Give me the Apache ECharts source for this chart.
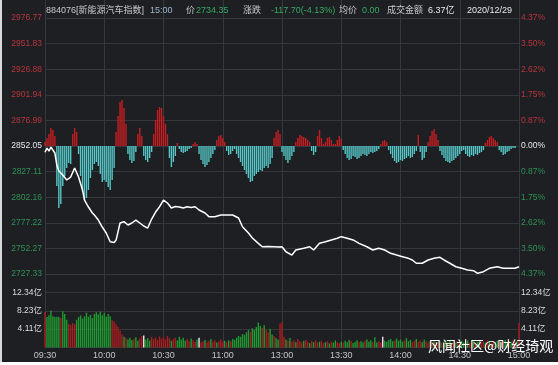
<!DOCTYPE html>
<html><head><meta charset="utf-8">
<script src="https://cdn.jsdelivr.net/npm/echarts@6/dist/echarts.min.js"></script>
<style>
html,body{margin:0;padding:0;background:#ffffff;overflow:hidden;}
#c{position:absolute;left:0;top:0;width:558px;height:365px;}
#lb{position:absolute;left:0;top:0;width:2px;height:365px;background:#d9d9d9;}
#bb{position:absolute;left:0;top:362px;width:558px;height:3px;background:#ffffff;}
</style>
</head><body><div id="c"></div><div id="lb"></div><div id="bb"></div>
<script>
// ---- header values ----
const headerCode = '884076[新能源汽车指数]';
const headerTime = '15:00';
const lastPrice = '2734.35';
const change = '-117.70(-4.13%)';
const avgPrice = '0.00';
const turnover = '6.37亿';
const tradeDate = '2020/12/29';
const watermark = '风闻社区@财经琦观';

// ---- axis tick labels ----
const timeLabels = ['09:30','10:00','10:30','11:00','13:00','13:30','14:00','14:30','15:00'];
const priceTicks = ['2727.33','2752.27','2777.22','2802.16','2827.11','2852.05','2876.99','2901.94','2926.88','2951.83','2976.77']; // bottom -> top
const pctTicks = ['4.37%','3.50%','2.62%','1.75%','0.87%','0.00%','0.87%','1.75%','2.62%','3.50%','4.37%']; // bottom -> top
const volTicks = ['','4.11亿','8.23亿','12.34亿','']; // bottom -> top
const preClose = 2852.05;
const priceMin = 2727.33, priceMax = 2976.77, priceStep = 24.944;
const volMax = 16.4532, volStep = 4.1133;

// ---- price line: [minute index, price] ----
const pricePoints = [
[0,2846.0],[1,2850.0],[2,2847.0],[3,2851.0],[4,2849.5],[5,2845.2],[6,2833.5],[7,2827.7],[9,2823.8],[11,2818.9],[13,2821.8],[15,2830.6],[17,2821.8],[19,2809.2],[20,2799.4],[22,2792.6],[24,2786.8],[25,2784.8],[27,2779.9],[29,2773.1],[31,2767.3],[33,2758.8],[34,2757.0],[35,2758.0],[36,2760.4],[38,2777.0],[40,2778.3],[42,2775.1],[44,2777.0],[46,2779.9],[48,2777.0],[50,2774.1],[52,2772.1],[54,2780.9],[56,2787.7],[58,2792.9],[60,2799.4],[62,2796.5],[64,2791.6],[66,2793.1],[68,2792.6],[70,2791.6],[72,2792.9],[74,2792.1],[76,2792.9],[78,2789.7],[81,2786.8],[83,2783.2],[86,2783.2],[89,2784.8],[92,2784.8],[95,2784.8],[98,2781.9],[100,2773.4],[103,2767.3],[105,2762.4],[108,2757.2],[110,2753.9],[113,2754.1],[116,2753.9],[118,2753.6],[120,2753.9],[122,2749.0],[125,2745.8],[127,2750.7],[131,2752.4],[134,2753.9],[136,2750.7],[139,2757.2],[142,2758.8],[145,2760.5],[148,2762.1],[150,2763.7],[153,2762.1],[156,2760.5],[159,2757.2],[163,2753.9],[166,2750.7],[169,2752.4],[172,2750.7],[175,2747.5],[178,2745.8],[181,2744.2],[184,2742.6],[186,2741.0],[188,2737.8],[191,2737.8],[194,2741.0],[197,2742.6],[200,2743.6],[202,2741.0],[205,2737.8],[208,2734.4],[211,2732.9],[214,2731.2],[217,2730.6],[219,2728.0],[222,2729.6],[225,2732.9],[229,2734.4],[232,2732.9],[235,2732.9],[238,2732.9],[240,2734.35]
];

// ---- red/cyan strength bars around the pre-close line (one per minute) ----
const strength = [
4,8,12,18,16,10,-40,-62,-58,-40,
-30,-22,-17,-18,12,18,14,-8,-30,-46,
-54,-52,-44,-32,-24,-18,-16,-20,-28,-36,
-34,-36,-41,-44,-34,-22,14,30,44,46,
38,22,-8,-14,-17,-15,-6,12,18,10,
-10,-14,-16,-12,-6,12,26,36,39,38,
30,22,12,-12,-21,-16,-10,3,-3,-6,
-7,-6,-5,-3,-2,2,4,2,-8,-14,
-18,-21,-19,-16,-12,-8,-4,6,10,11,
8,4,-5,-9,-8,-5,-3,-8,-12,-16,
-20,-24,-28,-32,-36,-35,-30,-28,-26,-24,
-25,-22,-20,-22,-18,-12,8,14,16,12,
-6,-10,-14,-17,-14,-10,-6,4,8,11,
10,9,8,6,4,-5,-9,-6,10,16,
8,2,4,8,9,6,2,2,6,10,
7,-4,-8,-12,-14,-13,-10,-11,-13,-12,
-10,-8,-9,-10,-8,-6,-7,-6,-5,-3,
2,5,6,4,-4,-8,-12,-15,-17,-16,
-14,-15,-13,-12,-10,-12,-11,-8,-5,11,
-6,-14,-12,-6,4,10,15,17,12,6,
-5,-9,-12,-15,-16,-17,-15,-14,-12,-10,
-8,-5,-4,-8,-10,-11,-9,-10,-8,-9,
-7,-6,-4,3,6,9,10,8,6,4,
-4,-6,-9,-8,-6,-5,-3,-2,-2,0,0
];

// ---- volume per minute (亿) and its colour flag (r = up, g = down, w = flat) ----
const volume = [
8.0,6.8,7.2,8.3,7.0,6.8,6.9,6.8,6.6,8.1,
7.5,6.2,5.3,5.0,5.5,5.2,6.2,6.8,7.2,6.5,
7.0,7.8,6.9,7.3,6.6,7.5,7.9,7.4,8.0,7.2,
7.8,6.9,7.5,7.0,6.1,5.8,5.2,4.6,3.8,2.9,
2.4,2.1,1.8,2.2,1.6,1.9,2.3,1.5,2.0,2.6,
2.7,1.8,2.1,1.6,2.4,1.9,2.2,1.7,2.5,2.0,
2.3,1.8,2.6,2.1,1.5,1.9,2.2,1.6,2.4,1.8,
2.2,1.5,1.9,1.4,2.0,1.6,1.3,1.8,2.2,1.2,
1.4,1.7,1.2,1.5,1.9,1.3,1.6,1.1,1.4,1.8,
1.3,1.5,1.2,1.6,1.4,1.9,1.7,2.2,2.6,2.4,
3.0,2.8,3.4,3.9,3.5,4.3,4.0,4.6,5.6,4.8,
4.4,5.0,3.9,3.4,4.2,2.9,2.6,2.1,1.8,5.4,
5.7,2.4,1.8,1.5,2.1,1.3,1.6,1.2,1.9,1.4,
1.1,1.5,1.7,1.3,1.0,1.4,1.2,1.6,1.1,1.3,
1.5,1.0,1.2,1.4,0.9,1.3,1.1,1.6,1.2,1.0,
1.3,1.1,1.5,1.2,1.7,1.4,1.0,1.3,1.6,1.2,
1.4,1.1,1.5,1.8,1.3,1.6,1.2,2.3,1.1,1.4,
1.2,2.4,1.5,1.3,1.7,1.9,1.4,1.6,2.0,1.5,
1.8,1.3,1.6,2.1,1.4,1.7,1.2,1.5,1.9,1.3,
1.6,1.2,1.8,1.4,1.1,1.5,1.3,1.7,1.2,1.0,
1.4,1.1,1.3,1.6,1.2,1.5,1.0,1.3,1.1,1.4,
1.2,1.5,1.1,1.3,1.6,1.0,1.2,1.4,1.1,1.3,
1.5,1.2,1.4,1.1,1.6,1.3,1.0,1.4,1.2,1.5,
1.3,1.1,1.4,1.7,1.2,1.5,1.3,1.6,1.1,1.4,5.5
];
const volumeDir =
'rgggggggrg'+'ggrrrrgggg'+'gggggggggg'+'ggggrrrrrr'+'grgggrggrr'+
'wgggrrrrrr'+'rrrrgrrggg'+'ggrrgrrgwr'+'rgrrgrrgrr'+'rgrgrggggg'+
'ggggrggggg'+'rgrrggrggr'+'rrgrgrrgrr'+'rgrrgrgrrg'+'rrgrgrggrr'+
'grgggrgggr'+'ggrgggrggr'+'rwgggggrgg'+'ggrgggrrgr'+'rggrrgrgrr'+
'grggrgrrgr'+'rggrgrrgrg'+'grrgrgrrgg'+'rgrggrgrrgr';

// ---- minute categories: 09:30-11:30, 13:01-15:00 ----
const minutes = [];
function pad(n){return (n<10?'0':'')+n;}
for (let m = 9*60+30; m <= 11*60+30; m++) minutes.push(pad(Math.floor(m/60))+':'+pad(m%60));
for (let m = 13*60+1; m <= 15*60; m++) minutes.push(pad(Math.floor(m/60))+':'+pad(m%60));

// ---- styles ----
const BG = '#1d1f23';
const GRID = '#35383d';
const RED_TXT = '#b8343d';
const GRN_TXT = '#2f9155';
const WHITE_TXT = '#e6e6e6';
const AXIS_FONT = '"Liberation Sans","Noto Sans CJK SC"';
const HEAD_FONT = '"Liberation Sans","Noto Sans CJK SC"';

function priceIdx(v){ return Math.round((parseFloat(v)-priceMin)/priceStep); }
function volIdx(v){ return Math.round(parseFloat(v)/volStep); }
function priceColor(v){ const k = priceIdx(v); return k>5?RED_TXT:(k<5?GRN_TXT:WHITE_TXT); }

const chart = echarts.init(document.getElementById('c'), null, {renderer:'canvas'});

const xBase = (g) => ({
  type:'category', gridIndex:g, data:minutes, boundaryGap:false,
  axisLine:{show:false}, axisTick:{show:false},
  axisLabel:{show:g===1, interval:(i)=>i%30===0, formatter:(v,i)=>timeLabels[i/30],
    color:'#c4c4c4', fontSize:9, margin:4, fontFamily:AXIS_FONT},
  splitLine:{show:true, interval:(i)=>i%30===0, lineStyle:{color:GRID, width:1}}
});

const head = [
  [46, headerCode, '#c8c8c8'],
  [150, headerTime, '#9fb7d0'],
  [186, '价', '#c8c8c8'],
  [196, lastPrice, '#35a862'],
  [243, '涨跌', '#c8c8c8'],
  [271, change, '#35a862'],
  [339, '均价', '#c8c8c8'],
  [362, avgPrice, '#35a862'],
  [387, '成交金额', '#c8c8c8'],
  [428, turnover, '#e6e6e6'],
  [467, tradeDate, '#e6e6e6']
];

const option = {
  backgroundColor: BG,
  animation: false,
  grid: [
    {left:45, top:18, width:474, height:256},
    {left:45, top:274, width:474, height:73.5},
    {left:45, top:0, width:474, height:18}
  ],
  xAxis: [xBase(0), xBase(1), xBase(2)],
  yAxis: [
    {type:'value', gridIndex:0, position:'left', min:priceMin, max:priceMax, interval:priceStep,
     axisLine:{show:false}, axisTick:{show:false},
     splitLine:{show:true, lineStyle:{color:GRID, width:1}},
     axisLabel:{formatter:(v)=>priceTicks[priceIdx(v)], color:priceColor, fontSize:8.5, margin:3, fontFamily:AXIS_FONT}},
    {type:'value', gridIndex:0, position:'right', min:priceMin, max:priceMax, interval:priceStep,
     axisLine:{show:false}, axisTick:{show:false}, splitLine:{show:false},
     axisLabel:{formatter:(v)=>pctTicks[priceIdx(v)], color:priceColor, fontSize:8.5, margin:2, fontFamily:AXIS_FONT}},
    {type:'value', gridIndex:0, min:-128, max:128, show:false, splitLine:{show:false}},
    {type:'value', gridIndex:1, position:'left', min:0, max:volMax, interval:volStep,
     axisLine:{show:false}, axisTick:{show:false},
     splitLine:{show:true, lineStyle:{color:GRID, width:1}},
     axisLabel:{formatter:(v)=>volTicks[volIdx(v)], color:'#dcdcdc', fontSize:8.5, margin:3, fontFamily:AXIS_FONT}},
    {type:'value', gridIndex:1, position:'right', min:0, max:volMax, interval:volStep,
     axisLine:{show:false}, axisTick:{show:false}, splitLine:{show:false},
     axisLabel:{formatter:(v)=>volTicks[volIdx(v)], color:'#dcdcdc', fontSize:8.5, margin:2, fontFamily:AXIS_FONT}},
    {type:'value', gridIndex:2, show:false, splitLine:{show:false}}
  ],
  series: [
    {type:'bar', xAxisIndex:0, yAxisIndex:2, barWidth:1.4, z:2,
     data: strength.map(v=>({value:v, itemStyle:{color: v>=0 ? '#c41e22' : '#56c6c6'}}))},
    {type:'line', xAxisIndex:0, yAxisIndex:0, data:pricePoints, symbol:'none', z:5,
     lineStyle:{color:'#ffffff', width:1.5}},
    {type:'bar', xAxisIndex:1, yAxisIndex:3, barWidth:1.4, z:2,
     data: volume.map((v,i)=>({value:v, itemStyle:{color: volumeDir[i]==='r' ? '#a81d1f' : (volumeDir[i]==='g' ? '#1f9a30' : '#e8e8e8')}}))}
  ],
  graphic: head.map(h => ({type:'text', x:h[0], y:11, z:10,
      style:{text:h[1], fill:h[2], font:'9px '+HEAD_FONT, verticalAlign:'middle'}}))
    .concat([{type:'text', x:428, y:346, z:20,
      style:{text:watermark, fill:'#ffffff', font:'14px "Noto Sans CJK SC"', verticalAlign:'middle'}}])
};
chart.setOption(option);
</script></body></html>
